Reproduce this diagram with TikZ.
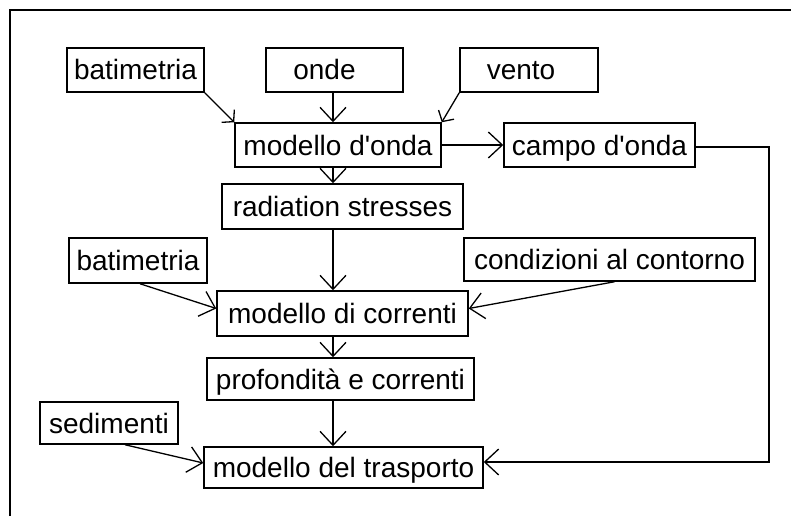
\documentclass[tikz,border=0pt]{standalone}
\usepackage{fontspec}
\setmainfont{Liberation Sans}
\usetikzlibrary{arrows.meta}
\begin{document}
\begin{tikzpicture}[x=1pt,y=-1pt,
  box/.style={draw, line width=1.5pt, inner sep=0pt, text height=20pt, text depth=0pt,
    font=\fontsize{28}{32}\selectfont, fill=white},
  arr/.style={line width=1.3pt, -{Straight Barb[length=14pt,width=26pt,line width=1.3pt]}},
  arrsmall/.style={line width=1.3pt, -{Straight Barb[length=8pt,width=18pt,line width=1.3pt]}},
  line join=miter]
\useasboundingbox (0,0) rectangle (791,516);
\fill[white] (0,0) rectangle (791,516);
\draw[line width=1.5pt] (10,516) -- (10,10) -- (791,10);

\node[box, minimum width=137pt, minimum height=44pt] (bat1) at (135.5,70) {batimetria};
\node[box, minimum width=137pt, minimum height=44pt] (onde) at (334.5,70) {onde\hspace*{20pt}};
\node[box, minimum width=138pt, minimum height=44pt] (vento) at (529,70) {vento\hspace*{16pt}};
\node[box, minimum width=206pt, minimum height=44pt] (mOnda) at (338,145) {modello d\textquotesingle onda};
\node[box, minimum width=191pt, minimum height=44pt] (campo) at (599.5,145) {campo d\textquotesingle onda};
\node[box, minimum width=241pt, minimum height=45pt] (rad) at (342.5,206.5) {radiation stresses};
\node[box, minimum width=138pt, minimum height=45pt] (bat2) at (138,260.5) {batimetria};
\node[box, minimum width=291pt, minimum height=43pt] (cond) at (609.5,259.5) {condizioni al contorno};
\node[box, minimum width=251pt, minimum height=45pt] (mCorr) at (342.5,313.5) {modello di correnti};
\node[box, minimum width=267pt, minimum height=42pt] (prof) at (340.5,379) {profondità e correnti};
\node[box, minimum width=138pt, minimum height=42pt] (sed) at (109,423) {sedimenti};
\node[box, minimum width=279pt, minimum height=41pt] (mTrasp) at (343.5,467.5) {modello del trasporto};

\coordinate (vx) at (333,0);
\coordinate (c2) at (769,462);

\draw[arr] (onde.south -| vx) -- (mOnda.north -| vx);
\draw[arrsmall] (bat1.south east) -- (mOnda.north west);
\draw[arrsmall] (vento.south west) -- (mOnda.north east);
\draw[arr] (mOnda.east) -- (campo.west);
\draw[arr] (mOnda.south -| vx) -- (rad.north -| vx);
\draw[arr] (rad.south -| vx) -- (mCorr.north -| vx);
\draw[arr] ([xshift=2pt]bat2.south) -- ([yshift=5pt]mCorr.west);
\draw[arr] ([xshift=5pt]cond.south) -- ([yshift=5pt]mCorr.east);
\draw[arr] (mCorr.south -| vx) -- (prof.north -| vx);
\draw[arr] (prof.south -| vx) -- (mTrasp.north -| vx);
\draw[arr] ([xshift=16pt]sed.south) -- ([yshift=4.5pt]mTrasp.west);
\draw[arr] ([yshift=-2pt]campo.east) -| (c2) -- ([yshift=5.5pt]mTrasp.east);
\end{tikzpicture}
\end{document}
